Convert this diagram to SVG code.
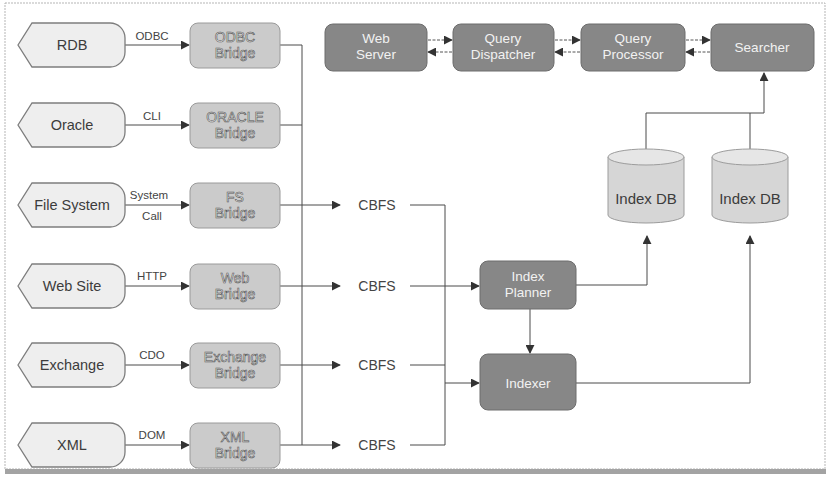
<svg xmlns="http://www.w3.org/2000/svg" width="828" height="482" viewBox="0 0 828 482">
<defs>
<style>
.frame{fill:#ffffff;stroke:#b5b5b5;stroke-width:1;stroke-dasharray:2 1}
.src use{fill:#eeeeee;stroke:#7d7d7d;stroke-width:1.3}
.src text{font-family:"Liberation Sans",Arial,sans-serif;font-size:14.5px;fill:#3c3c3c;text-anchor:middle}
.br rect{fill:#cbcbcb;stroke:#9a9a9a;stroke-width:1}
.br text{font-family:"Liberation Sans",Arial,sans-serif;font-size:14px;fill:#f4f4f4;stroke:#555;stroke-width:0.6;text-anchor:middle}
.dk rect{fill:#878787;stroke:#6d6d6d;stroke-width:1}
.dk text{font-family:"Liberation Sans",Arial,sans-serif;font-size:13.5px;fill:#f2f2f2;text-anchor:middle}
.cyl path{fill:#d6d6d6;stroke:#9c9c9c;stroke-width:1}
.cyl ellipse{fill:#e6e6e6;stroke:#9c9c9c;stroke-width:1}
.cyl text{font-family:"Liberation Sans",Arial,sans-serif;font-size:15px;fill:#3c3c3c;text-anchor:middle}
.lbl{font-family:"Liberation Sans",Arial,sans-serif;font-size:11.5px;fill:#444;text-anchor:middle}
.cb{font-family:"Liberation Sans",Arial,sans-serif;font-size:14px;fill:#444;text-anchor:middle}
.ln{fill:none;stroke:#4a4a4a;stroke-width:1}
.dash{fill:none;stroke:#555;stroke-width:1;stroke-dasharray:3 1.5}
</style>
<marker id="ah" viewBox="0 0 10 10" refX="9" refY="5" markerWidth="9" markerHeight="9" markerUnits="userSpaceOnUse" orient="auto">
<path d="M0,0 L10,5 L0,10 Z" fill="#333"/>
</marker>
<path id="hex" d="M-54,0 L-40,-22 H38 A15,15 0 0 1 53,-7 V7 A15,15 0 0 1 38,22 H-40 Z"/>
</defs>

<rect class="frame" x="5" y="3" width="820" height="466"/>
<rect x="5" y="469" width="821" height="5" fill="#a3a3a3"/>

<g id="connectors">
<line class="ln" x1="125" y1="45" x2="189" y2="45" marker-end="url(#ah)"/>
<line class="ln" x1="125" y1="125" x2="189" y2="125" marker-end="url(#ah)"/>
<line class="ln" x1="125" y1="205" x2="189" y2="205" marker-end="url(#ah)"/>
<line class="ln" x1="125" y1="286" x2="189" y2="286" marker-end="url(#ah)"/>
<line class="ln" x1="125" y1="365" x2="189" y2="365" marker-end="url(#ah)"/>
<line class="ln" x1="125" y1="445" x2="189" y2="445" marker-end="url(#ah)"/>
<polyline class="ln" points="280,45 302,45 302,445"/>
<line class="ln" x1="280" y1="125" x2="302" y2="125"/>
<line class="ln" x1="280" y1="205" x2="340" y2="205" marker-end="url(#ah)"/>
<line class="ln" x1="280" y1="286" x2="340" y2="286" marker-end="url(#ah)"/>
<line class="ln" x1="280" y1="365" x2="340" y2="365" marker-end="url(#ah)"/>
<line class="ln" x1="280" y1="445" x2="340" y2="445" marker-end="url(#ah)"/>
<polyline class="ln" points="410,205 445,205 445,445 410,445"/>
<line class="ln" x1="410" y1="286" x2="479" y2="286" marker-end="url(#ah)"/>
<line class="ln" x1="410" y1="365" x2="445" y2="365"/>
<line class="ln" x1="445" y1="383" x2="479" y2="383" marker-end="url(#ah)"/>
<line class="ln" x1="530" y1="309" x2="530" y2="353" marker-end="url(#ah)"/>
<polyline class="ln" points="576,285 647,285 647,236" marker-end="url(#ah)"/>
<polyline class="ln" points="576,383 750,383 750,236" marker-end="url(#ah)"/>
<polyline class="ln" points="646,149 646,113 764,113"/>
<line class="ln" x1="750" y1="149" x2="750" y2="113"/>
<line class="ln" x1="764" y1="113" x2="764" y2="73" marker-end="url(#ah)"/>
<line class="dash" x1="428" y1="40" x2="452" y2="40" marker-end="url(#ah)"/>
<line class="dash" x1="452" y1="52" x2="428" y2="52" marker-end="url(#ah)"/>
<line class="dash" x1="555" y1="40" x2="580" y2="40" marker-end="url(#ah)"/>
<line class="dash" x1="580" y1="52" x2="555" y2="52" marker-end="url(#ah)"/>
<line class="dash" x1="686" y1="40" x2="710" y2="40" marker-end="url(#ah)"/>
<line class="dash" x1="710" y1="52" x2="686" y2="52" marker-end="url(#ah)"/>
</g>

<g id="labels">
<text class="lbl" x="152" y="40">ODBC</text>
<text class="lbl" x="152" y="120">CLI</text>
<text class="lbl" x="149" y="199">System</text>
<text class="lbl" x="152" y="220">Call</text>
<text class="lbl" x="152" y="280">HTTP</text>
<text class="lbl" x="152" y="359">CDO</text>
<text class="lbl" x="152" y="439">DOM</text>
</g>

<g id="src-rdb" class="src"><use href="#hex" x="72" y="45"/><text x="72" y="50">RDB</text></g>
<g id="src-oracle" class="src"><use href="#hex" x="72" y="125"/><text x="72" y="130">Oracle</text></g>
<g id="src-fs" class="src"><use href="#hex" x="72" y="205"/><text x="72" y="210">File System</text></g>
<g id="src-web" class="src"><use href="#hex" x="72" y="286"/><text x="72" y="291">Web Site</text></g>
<g id="src-exchange" class="src"><use href="#hex" x="72" y="365"/><text x="72" y="370">Exchange</text></g>
<g id="src-xml" class="src"><use href="#hex" x="72" y="445"/><text x="72" y="450">XML</text></g>

<g id="br-odbc" class="br"><rect x="190" y="23" width="90" height="45" rx="8"/><text x="235" y="42">ODBC</text><text x="235" y="58">Bridge</text></g>
<g id="br-oracle" class="br"><rect x="190" y="103" width="90" height="45" rx="8"/><text x="235" y="122">ORACLE</text><text x="235" y="138">Bridge</text></g>
<g id="br-fs" class="br"><rect x="190" y="183" width="90" height="45" rx="8"/><text x="235" y="202">FS</text><text x="235" y="218">Bridge</text></g>
<g id="br-web" class="br"><rect x="190" y="264" width="90" height="45" rx="8"/><text x="235" y="283">Web</text><text x="235" y="299">Bridge</text></g>
<g id="br-exchange" class="br"><rect x="190" y="343" width="90" height="45" rx="8"/><text x="235" y="362">Exchange</text><text x="235" y="378">Bridge</text></g>
<g id="br-xml" class="br"><rect x="190" y="423" width="90" height="45" rx="8"/><text x="235" y="442">XML</text><text x="235" y="458">Bridge</text></g>

<g id="cbfs1"><text class="cb" x="377" y="210">CBFS</text></g>
<g id="cbfs2"><text class="cb" x="377" y="291">CBFS</text></g>
<g id="cbfs3"><text class="cb" x="377" y="370">CBFS</text></g>
<g id="cbfs4"><text class="cb" x="377" y="450">CBFS</text></g>

<g id="web-server" class="dk"><rect x="325" y="24" width="102" height="47" rx="8"/><text x="376" y="43">Web</text><text x="376" y="59">Server</text></g>
<g id="query-dispatcher" class="dk"><rect x="453" y="24" width="101" height="47" rx="8"/><text x="503" y="43">Query</text><text x="503" y="59">Dispatcher</text></g>
<g id="query-processor" class="dk"><rect x="581" y="24" width="104" height="47" rx="8"/><text x="633" y="43">Query</text><text x="633" y="59">Processor</text></g>
<g id="searcher" class="dk"><rect x="711" y="24" width="103" height="47" rx="8"/><text x="762" y="52">Searcher</text></g>

<g id="index-planner" class="dk"><rect x="480" y="261" width="96" height="48" rx="8"/><text x="528" y="281">Index</text><text x="528" y="297">Planner</text></g>
<g id="indexer" class="dk"><rect x="480" y="354" width="96" height="56" rx="8"/><text x="528" y="388">Indexer</text></g>

<g id="index-db-1" class="cyl"><path d="M608,157 V215 A38,8 0 0 0 684,215 V157"/><ellipse cx="646" cy="157" rx="38" ry="8"/><text x="646" y="204">Index DB</text></g>
<g id="index-db-2" class="cyl"><path d="M712,157 V215 A38,8 0 0 0 788,215 V157"/><ellipse cx="750" cy="157" rx="38" ry="8"/><text x="750" y="204">Index DB</text></g>
</svg>
